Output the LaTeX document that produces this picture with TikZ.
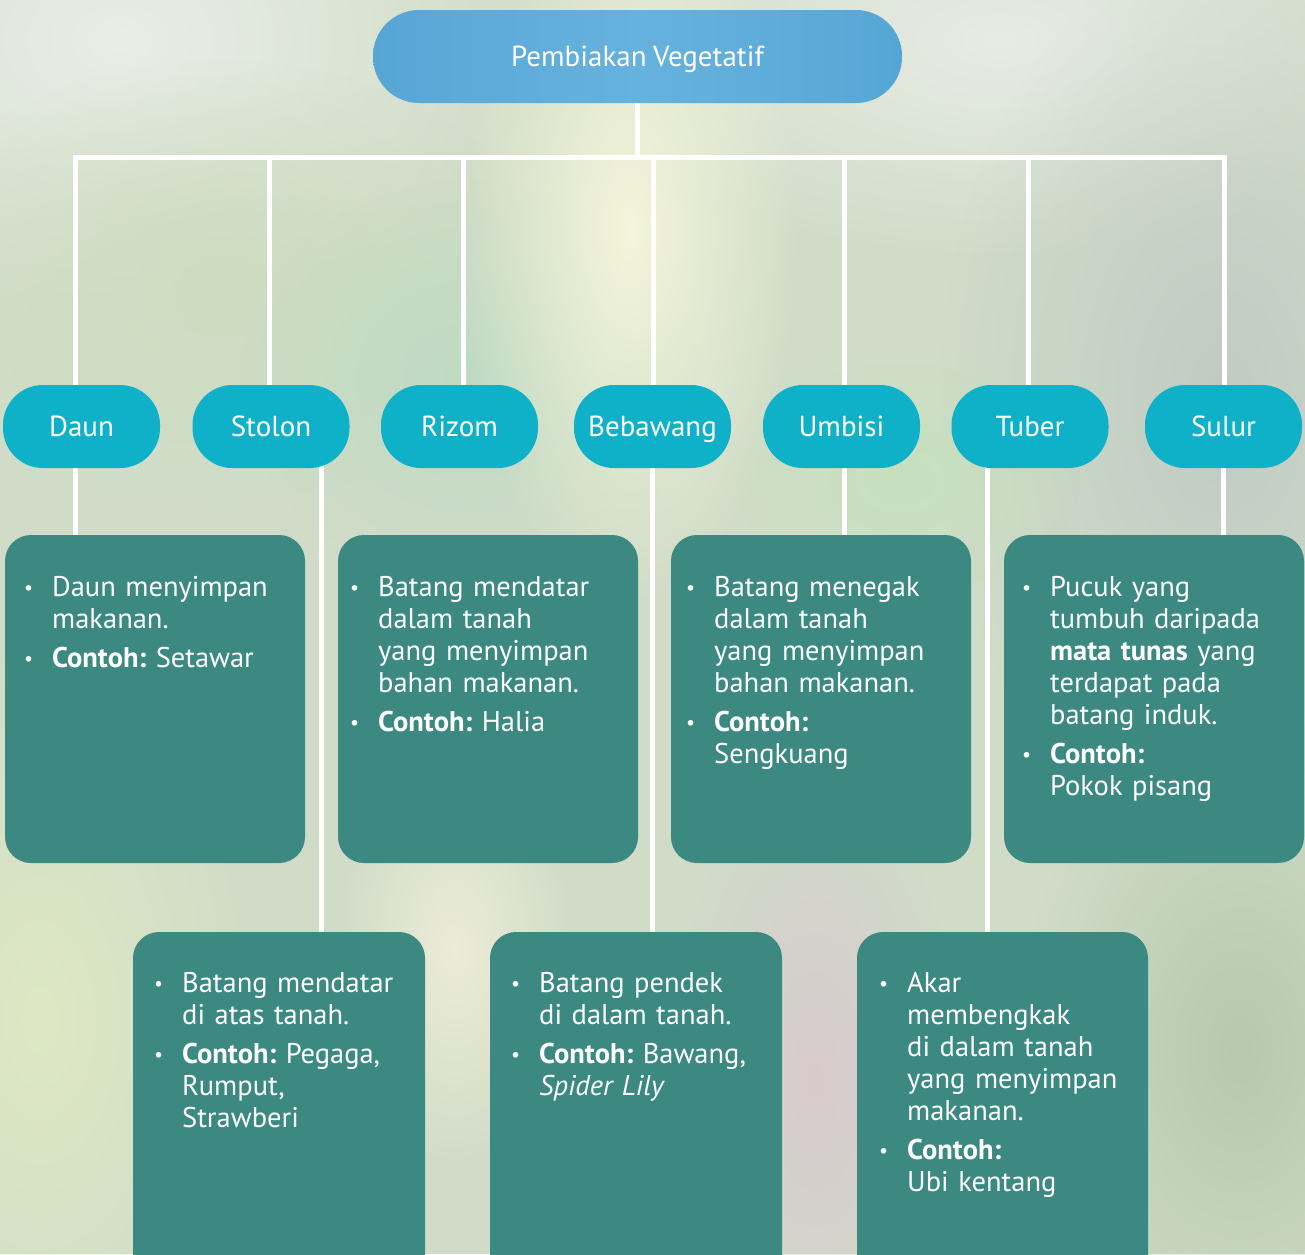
\documentclass[tikz,border=0pt]{standalone}
\usepackage{fontspec}
\usepackage{graphicx}
\setmainfont[WordSpace=0.85]{PT Sans}
\usetikzlibrary{fadings}
\pgfdeclarelayer{bg}
\pgfsetlayers{bg,main}
\definecolor{titlel}{RGB}{86,166,213}
\definecolor{titlem}{RGB}{102,178,222}
\definecolor{ovalc}{RGB}{14,177,200}
\definecolor{boxc}{RGB}{60,137,129}
\definecolor{bgbase}{RGB}{208,220,200}
\definecolor{bgA}{RGB}{234,238,230}
\definecolor{bgB}{RGB}{232,236,228}
\definecolor{bgC}{RGB}{205,220,192}
\definecolor{bgD}{RGB}{192,204,194}
\definecolor{bgE}{RGB}{190,218,195}
\definecolor{bgF}{RGB}{198,224,190}
\definecolor{bgG}{RGB}{244,245,218}
\definecolor{bgH}{RGB}{222,232,196}
\definecolor{bgI}{RGB}{236,236,216}
\definecolor{bgJ}{RGB}{216,202,206}
\definecolor{bgK}{RGB}{182,200,174}
\tikzfading[name=softblob, inner color=transparent!0, outer color=transparent!100]
\newcommand{\bulletmark}{\raisebox{1.5pt}{\scalebox{0.7}{\textbullet}}}
\newcommand{\fb}{\noindent\llap{\bulletmark\hspace{19pt}}}
\newcommand{\nb}{\par\vskip7pt\noindent\llap{\bulletmark\hspace{19pt}}}
\tikzset{
  conn/.style={draw=white, line width=5pt},
  titlebox/.style={rounded corners=46pt, minimum width=529pt, minimum height=93pt,
    text=white, font=\fontsize{29}{32}\selectfont, inner sep=0pt,
    text height=20pt, text depth=0pt,
    left color=titlel, right color=titlel, middle color=titlem},
  oval/.style={fill=ovalc, rounded corners=40pt, minimum width=157pt, minimum height=83pt,
    text=white, font=\fontsize{29}{32}\selectfont, inner sep=0pt,
    text height=20pt, text depth=0pt},
  box/.style={fill=boxc, rounded corners=26pt, inner sep=0pt},
  txt/.style={anchor=base west, inner sep=0pt, text width=275pt, align=left,
    text=white, font=\fontsize{28.5}{32}\selectfont\frenchspacing},
  blob/.style={fill=#1, path fading=softblob},
}
\begin{document}
\begin{tikzpicture}[x=1pt,y=-1pt]
\useasboundingbox (0,0) rectangle (1305,1254);
\clip (0,0) rectangle (1305,1254);

% nodes
\node[titlebox] (title) at (637.5,56.5) {Pembiakan Vegetatif};

\node[oval] (daun) at (81.5,426.5) {Daun};
\node[oval] (stolon) at (271,426.5) {Stolon};
\node[oval] (rizom) at (459.5,426.5) {Rizom};
\node[oval] (bebawang) at (652.5,426.5) {Bebawang};
\node[oval] (umbisi) at (841.5,426.5) {Umbisi};
\node[oval] (tuber) at (1030,426.5) {Tuber};
\node[oval] (sulur) at (1223.5,426.5) {Sulur};

\node[box, minimum width=300pt, minimum height=328pt] (b1) at (155,699) {};
\node[box, minimum width=300pt, minimum height=328pt] (b2) at (488,699) {};
\node[box, minimum width=300pt, minimum height=328pt] (b3) at (821,699) {};
\node[box, minimum width=300pt, minimum height=328pt] (b4) at (1154,699) {};
\node[box, minimum width=292pt, minimum height=360pt] (b5) at (279,1112) {};
\node[box, minimum width=292pt, minimum height=360pt] (b6) at (636,1112) {};
\node[box, minimum width=291pt, minimum height=360pt] (b7) at (1002.5,1112) {};

\node[txt] (t1) at (52,596) {\fb Daun menyimpan\\ makanan.\nb \textbf{Contoh:} Setawar};
\node[txt] (t2) at (378,596) {\fb Batang mendatar\\ dalam tanah\\ yang menyimpan\\ bahan makanan.\nb \textbf{Contoh:} Halia};
\node[txt] (t3) at (714,596) {\fb Batang menegak\\ dalam tanah\\ yang menyimpan\\ bahan makanan.\nb \textbf{Contoh:}\\ Sengkuang};
\node[txt] (t4) at (1050,596) {\fb Pucuk yang\\ tumbuh daripada\\ \textbf{mata tunas} yang\\ terdapat pada\\ batang induk.\nb \textbf{Contoh:}\\ Pokok pisang};
\node[txt] (t5) at (182,992) {\fb Batang mendatar\\ di atas tanah.\nb \textbf{Contoh:} Pegaga,\\ Rumput,\\ Strawberi};
\node[txt] (t6) at (539,992) {\fb Batang pendek\\ di dalam tanah.\nb \textbf{Contoh:} Bawang,\\ \textit{Spider Lily}};
\node[txt] (t7) at (907,992) {\fb Akar\\ membengkak\\ di dalam tanah\\ yang menyimpan\\ makanan.\nb \textbf{Contoh:}\\ Ubi kentang};

\begin{pgfonlayer}{bg}
  % background
  \fill[bgbase] (0,0) rectangle (1305,1254);
  \fill[blob=bgA] (120,40) ellipse (420 and 300);
  \fill[blob=bgB] (1000,40) ellipse (450 and 220);
  \fill[blob=bgC] (220,280) ellipse (330 and 220);
  \fill[blob=bgD] (1220,400) ellipse (280 and 450);
  \fill[blob=bgE] (470,380) ellipse (230 and 200);
  \fill[blob=bgF] (900,480) ellipse (180 and 130);
  \fill[blob=bgG] (630,230) ellipse (170 and 380);
  \fill[blob=bgH] (40,1020) ellipse (220 and 400);
  \fill[blob=bgI] (455,950) ellipse (120 and 220);
  \fill[blob=bgJ] (815,1080) ellipse (150 and 330);
  \fill[blob=bgK] (1240,1050) ellipse (220 and 340);
  % connectors
  \coordinate (c1) at (75,157);
  \coordinate (c2) at (269,157);
  \coordinate (c3) at (463,157);
  \coordinate (c4) at (653,157);
  \coordinate (c5) at (844,157);
  \coordinate (c6) at (1028,157);
  \coordinate (c7) at (1224,157);
  \draw[conn] (title.center) -- (title.center |- c1);
  \draw[conn, line join=miter] (c1 |- daun.center) -- (c1) -- (c7) -- (c7 |- sulur.center);
  \draw[conn] (c2) -- (c2 |- stolon.center);
  \draw[conn] (c3) -- (c3 |- rizom.center);
  \draw[conn] (c4) -- (c4 |- bebawang.center);
  \draw[conn] (c5) -- (c5 |- umbisi.center);
  \draw[conn] (c6) -- (c6 |- tuber.center);
  \draw[conn] ([xshift=-6.5pt]daun.center) -- ([xshift=-6.5pt]daun.center |- b1.center);
  \draw[conn] ([xshift=50pt]stolon.center) -- ([xshift=50pt]stolon.center |- b5.center);
  \draw[conn] (bebawang.center) -- (bebawang.center |- b6.center);
  \draw[conn] ([xshift=2.5pt]umbisi.center) -- ([xshift=2.5pt]umbisi.center |- b3.center);
  \draw[conn] ([xshift=-43pt]tuber.center) -- ([xshift=-43pt]tuber.center |- b7.center);
  \draw[conn] (sulur.center) -- (sulur.center |- b4.center);
\end{pgfonlayer}
\end{tikzpicture}
\end{document}
